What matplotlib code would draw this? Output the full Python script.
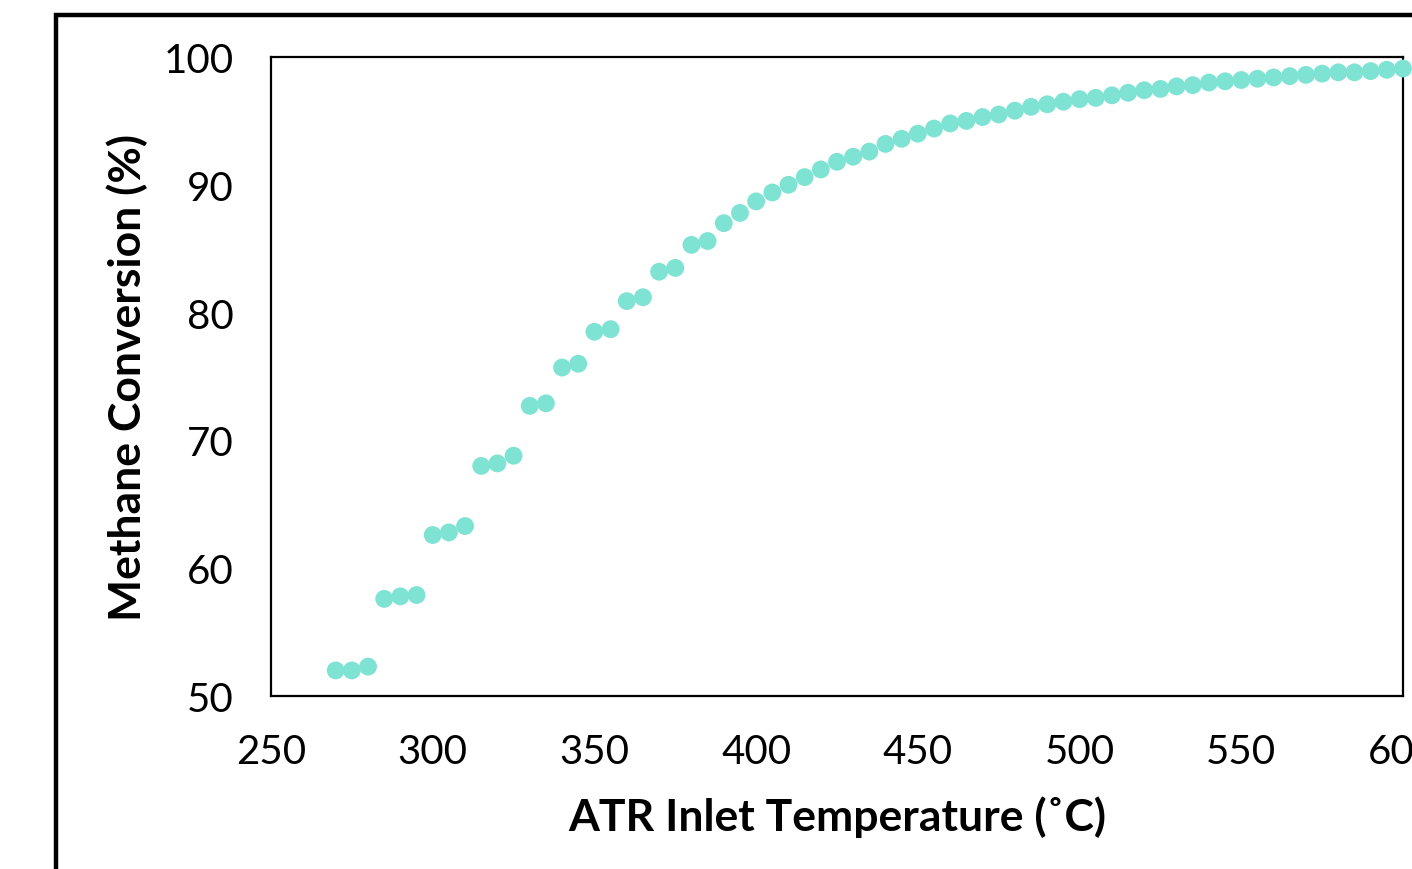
import matplotlib
matplotlib.use("Agg")
import matplotlib.pyplot as plt
from matplotlib.patches import Rectangle

# ATR inlet temperature (C) and methane conversion (%)
temp = list(range(270, 605, 5))
conv = [52.0, 52.0, 52.3, 57.6, 57.8, 57.9, 62.6, 62.8, 63.3, 68.0,
        68.2, 68.8, 72.7, 72.9, 75.7, 76.0, 78.5, 78.7, 80.9, 81.2,
        83.2, 83.5, 85.3, 85.6, 87.0, 87.8, 88.7, 89.4, 90.0, 90.6,
        91.2, 91.8, 92.2, 92.6, 93.2, 93.6, 94.0, 94.4, 94.8, 95.0,
        95.3, 95.5, 95.8, 96.1, 96.3, 96.5, 96.7, 96.8, 97.0, 97.2,
        97.4, 97.5, 97.7, 97.8, 98.0, 98.1, 98.2, 98.3, 98.4, 98.5,
        98.6, 98.7, 98.8, 98.8, 98.9, 99.0, 99.1]
xticks = [250, 300, 350, 400, 450, 500, 550, 600]
yticks = [50, 60, 70, 80, 90, 100]

plt.rcParams['font.family'] = ['Lato', 'DejaVu Sans']

W, H = 1412, 870
fig = plt.figure(figsize=(W / 100, H / 100), dpi=100)

# outer chart frame (cropped at right and bottom)
fig.patches.append(Rectangle((56 / W, -0.1), 2.0, 1 - 16 / H + 0.1,
                             transform=fig.transFigure, fill=False,
                             edgecolor='black', linewidth=3.2, zorder=0))

ax = fig.add_axes([271 / W, 1 - 697 / H, (1403 - 271) / W, (697 - 58) / H])
ax.scatter(temp, conv, s=165, color='#7FE3D4', edgecolors='none',
           clip_on=False, zorder=3)

ax.set_xlim(250, 600)
ax.set_ylim(50, 100)
ax.set_xticks(xticks)
ax.set_yticks(yticks)
ax.tick_params(length=0, labelsize=29, pad=27)
for s in ax.spines.values():
    s.set_linewidth(1.6)
    s.set_color('black')

ax.set_xlabel('ATR Inlet Temperature (˚C)', fontsize=32, fontweight='bold',
              labelpad=18)
ax.set_ylabel('Methane Conversion (%)', fontsize=32, fontweight='bold',
              labelpad=11)

fig.savefig('out.png', dpi=100)
